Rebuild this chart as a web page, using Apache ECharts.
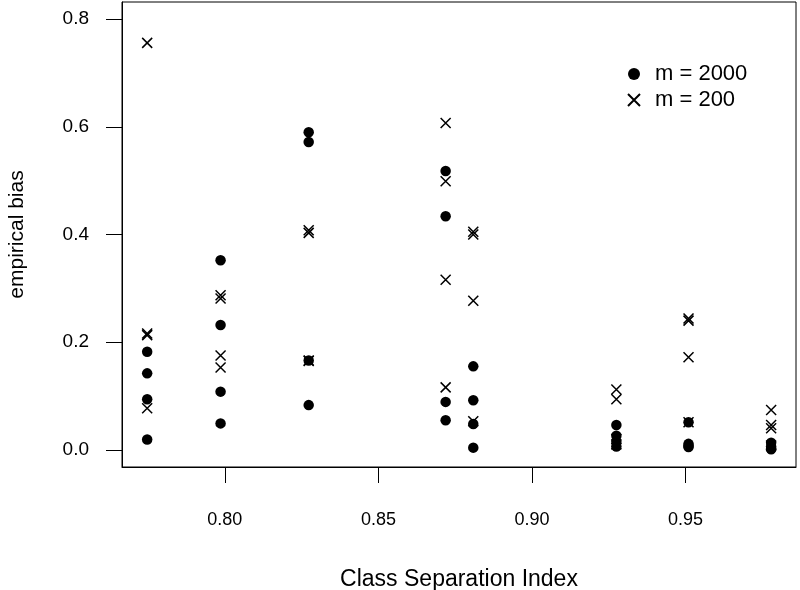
<!DOCTYPE html>
<html>
<head>
<meta charset="utf-8">
<title>empirical bias vs class separation index</title>
<script src="https://cdn.jsdelivr.net/npm/echarts@6/dist/echarts.min.js"></script>
<style>
  html, body { margin: 0; padding: 0; background: #fff; }
  #chart { width: 800px; height: 590px; }
</style>
</head>
<body>
<div id="chart"></div>
<script>
// class separation index of each group of runs
const columnX = [0.7747, 0.7986, 0.8273, 0.8719, 0.8809, 0.9275, 0.9510, 0.9779];

// empirical bias, 4 runs per column
const bias2000 = [
  [0.182, 0.142, 0.094, 0.019],
  [0.352, 0.232, 0.108, 0.049],
  [0.590, 0.572, 0.166, 0.083],
  [0.518, 0.434, 0.089, 0.055],
  [0.155, 0.092, 0.048, 0.004],
  [0.046, 0.026, 0.015, 0.006],
  [0.051, 0.011, 0.007, 0.005],
  [0.013, 0.006, 0.002, 0.001]
];
const bias200 = [
  [0.756, 0.216, 0.213, 0.077],
  [0.287, 0.281, 0.175, 0.153],
  [0.408, 0.403, 0.166, 0.165],
  [0.607, 0.499, 0.316, 0.116],
  [0.405, 0.400, 0.277, 0.053],
  [0.112, 0.094, 0.020, 0.010],
  [0.244, 0.240, 0.172, 0.051],
  [0.074, 0.046, 0.040, 0.008]
];

const xTicks = [0.80, 0.85, 0.90, 0.95];
const yTicks = [0.0, 0.2, 0.4, 0.6, 0.8];

const toPoints = (groups) => {
  const pts = [];
  groups.forEach((vals, i) => {
    vals.forEach(v => pts.push([columnX[i], v]));
  });
  return pts;
};

const FONT = "'Liberation Sans', Arial, Helvetica, sans-serif";
const crossPath = 'path://M0,0L10,10M0,10L10,0';

const chart = echarts.init(document.getElementById('chart'));
chart.setOption({
  animation: false,
  backgroundColor: '#fff',
  textStyle: { fontFamily: FONT, color: '#000' },
  grid: {
    left: 122, right: 4, top: 2, bottom: 123,
    outerBoundsMode: 'none',
    show: true, borderColor: '#000', borderWidth: 1
  },
  legend: {
    orient: 'vertical',
    left: 627, top: 63,
    padding: 0,
    itemGap: 4,
    itemWidth: 12,
    itemHeight: 12,
    textStyle: { fontSize: 22, color: '#000', fontFamily: FONT, padding: [0, 0, 0, 10] },
    data: [
      { name: 'm = 2000', icon: 'circle' },
      { name: 'm = 200', icon: crossPath }
    ]
  },
  xAxis: {
    type: 'value',
    min: 0.7665, max: 0.986,
    name: 'Class Separation Index',
    nameLocation: 'middle',
    nameGap: 101,
    nameTextStyle: { fontSize: 23, color: '#000', fontFamily: FONT },
    axisLine: { show: true, onZero: false, lineStyle: { color: '#000', width: 1 } },
    axisTick: { show: true, inside: false, length: 16, customValues: xTicks, lineStyle: { color: '#000', width: 1 } },
    axisLabel: {
      customValues: xTicks, margin: 44, fontSize: 18, color: '#000', fontFamily: FONT,
      formatter: v => v.toFixed(2)
    },
    splitLine: { show: false }
  },
  yAxis: {
    type: 'value',
    min: -0.032, max: 0.832,
    name: 'empirical bias',
    nameLocation: 'middle',
    nameGap: 94,
    nameTextStyle: { fontSize: 21, color: '#000', fontFamily: FONT },
    axisLine: { show: true, onZero: false, lineStyle: { color: '#000', width: 1 } },
    axisTick: { show: true, inside: false, length: 16, customValues: yTicks, lineStyle: { color: '#000', width: 1 } },
    axisLabel: {
      customValues: yTicks, margin: 33, fontSize: 19, color: '#000', fontFamily: FONT,
      formatter: v => v.toFixed(1)
    },
    splitLine: { show: false }
  },
  series: [
    {
      name: 'm = 2000',
      type: 'scatter',
      symbol: 'circle',
      symbolSize: 10.5,
      itemStyle: { color: '#000', opacity: 1 },
      data: toPoints(bias2000)
    },
    {
      name: 'm = 200',
      type: 'scatter',
      symbol: crossPath,
      symbolSize: 10,
      itemStyle: { color: 'rgba(0,0,0,0)', borderColor: '#000', borderWidth: 1.5, opacity: 1 },
      data: toPoints(bias200)
    }
  ]
});
</script>
</body>
</html>
